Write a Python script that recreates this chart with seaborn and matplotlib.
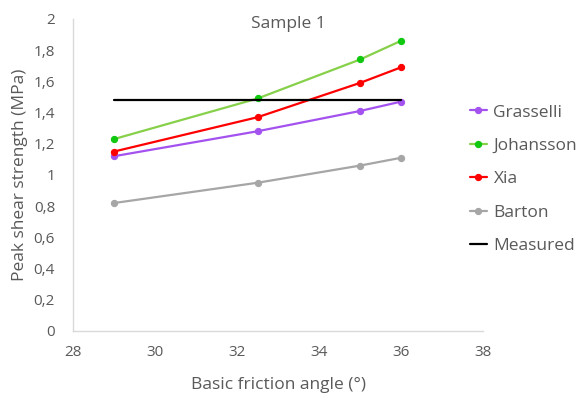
import matplotlib
matplotlib.use("Agg")
import matplotlib.pyplot as plt
import matplotlib.ticker as mticker
import seaborn as sns
import pandas as pd

# Basic friction angle (deg) and predicted peak shear strength (MPa)
angles = [29.0, 32.5, 35.0, 36.0]
grasselli = [1.12, 1.28, 1.41, 1.47]
johansson = [1.23, 1.49, 1.74, 1.86]
xia = [1.15, 1.37, 1.59, 1.69]
barton = [0.82, 0.95, 1.06, 1.11]
measured_x = [29.0, 36.0]
measured = [1.48, 1.48]

series_names = ["Grasselli", "Johansson", "Xia", "Barton"]
series_values = [grasselli, johansson, xia, barton]
line_colors = ["#a452ef", "#86d04a", "#ff0000", "#a6a6a6"]
marker_colors = ["#a452ef", "#10c810", "#ff0000", "#a6a6a6"]

sns.set_theme(style="white")
plt.rcParams["font.family"] = ["Open Sans", "DejaVu Sans"]
text_color = "#595959"

fig = plt.figure(figsize=(5.8, 3.94), dpi=100)
ax = fig.add_axes([0.126, 0.160, 0.707, 0.792])

for name, vals, lc, mc in zip(series_names, series_values, line_colors, marker_colors):
    df = pd.DataFrame({"angle": angles, "strength": vals})
    sns.lineplot(data=df, x="angle", y="strength", ax=ax, color=lc, linewidth=1.6,
                 marker="o", markersize=4.5, markerfacecolor=mc, markeredgecolor=mc,
                 label=name)

df_m = pd.DataFrame({"angle": measured_x, "strength": measured})
sns.lineplot(data=df_m, x="angle", y="strength", ax=ax, color="black", linewidth=1.6,
             label="Measured")

ax.set_xlim(28, 38)
ax.set_ylim(0, 2)
ax.set_xticks([28, 30, 32, 34, 36, 38])
ax.set_yticks([0, 0.2, 0.4, 0.6, 0.8, 1.0, 1.2, 1.4, 1.6, 1.8, 2.0])
ax.yaxis.set_major_formatter(mticker.FuncFormatter(
    lambda v, p: ("%g" % round(v, 1)).replace(".", ",")))

ax.tick_params(axis="both", labelsize=11, colors=text_color, length=0)
ax.tick_params(axis="x", pad=10)
ax.tick_params(axis="y", pad=13)
ax.set_xlabel("Basic friction angle (°)", fontsize=12.5, color=text_color, labelpad=12)
ax.set_ylabel("Peak shear strength (MPa)", fontsize=12.5, color=text_color, labelpad=4)

for side in ["top", "right"]:
    ax.spines[side].set_visible(False)
for side in ["left", "bottom"]:
    ax.spines[side].set_color("#d9d9d9")
    ax.spines[side].set_linewidth(1.0)
ax.grid(False)

fig.text(288 / 580, 1 - 24 / 394, "Sample 1", ha="center", va="center",
         fontsize=12.5, color=text_color)

leg = ax.legend(loc="upper left", bbox_to_anchor=(0.968, 0.726), frameon=False,
                fontsize=12.5, handlelength=0.95, handletextpad=0.4, labelspacing=0.99,
                borderaxespad=0, borderpad=0)
for t in leg.get_texts():
    t.set_color(text_color)

fig.savefig("out.png", dpi=100, facecolor="white")
